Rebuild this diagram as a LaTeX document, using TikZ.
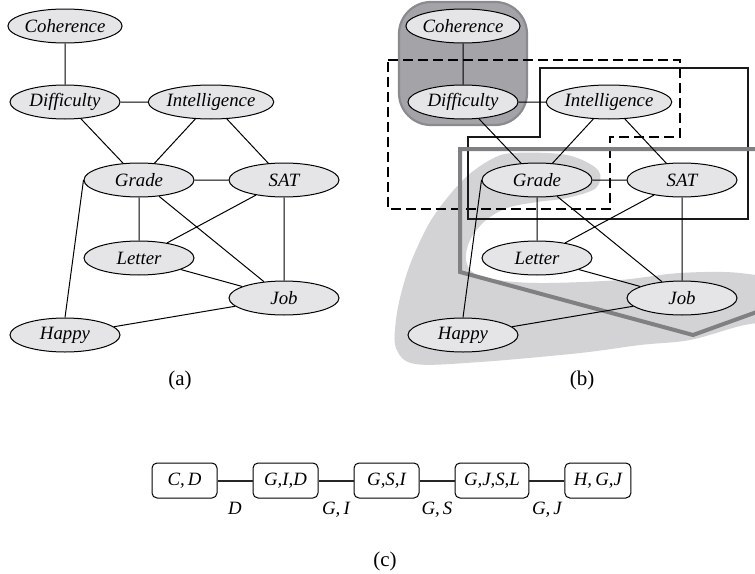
\documentclass[tikz,border=0pt]{standalone}
\usepackage{fontspec}
\setmainfont{Liberation Serif}
\usetikzlibrary{shapes,positioning}

\definecolor{varfill}{RGB}{229,229,231}
\definecolor{blobfill}{RGB}{211,211,213}
\definecolor{capfill}{RGB}{163,163,168}
\definecolor{capdraw}{RGB}{138,138,143}
\definecolor{polygray}{RGB}{128,128,130}

\begin{document}
\begin{tikzpicture}[x=0.5pt, y=-0.5pt,
    % one unit is one pixel of the 755x573 frame, y grows downwards
    var/.style={ellipse, draw, fill=varfill, line width=0.5pt, minimum width=55pt, minimum height=17pt, inner sep=0pt, font=\fontsize{9.4}{11}\selectfont\itshape},
    clique/.style={rectangle, draw, line width=0.5pt, rounded corners=2.5pt, minimum width=32.5pt, minimum height=17.5pt, inner xsep=4.5pt, font=\fontsize{9.4}{11}\selectfont\itshape},
    line/.style={draw, line width=0.5pt},
    sepline/.style={draw, line width=1pt, black!85},
    caption/.style={font=\fontsize{10.5}{12}\selectfont}]

    \useasboundingbox (0,0) rectangle (755,573);
    \clip (0,0) rectangle (755,573);

    % ---------- (a) the network ----------
    \node [var] (coh) at (65,26) {Coherence};
    \node [var] (dif) at (65,102) {Difficulty};
    \node [var] (int) at (211,102) {Intelligence};
    \node [var] (grade) at (139,180) {Grade};
    \node [var] (sat) at (284,180) {SAT};
    \node [var] (letter) at (139,258) {Letter};
    \node [var] (job) at (284,298) {Job};
    \node [var] (happy) at (65,335) {Happy};

    \path [line] (coh) -- (dif) (dif) -- (int) (dif) -- (grade) (int) -- (grade)
        (int) -- (sat) (grade) -- (sat) (grade) -- (letter) (sat) -- (letter)
        (grade) -- (job) (sat) -- (job) (letter) -- (job) (happy) -- (job)
        (grade.west) -- (happy.north);

    \node [caption] (capa) at (180,380) {(a)};

    % ---------- (b) the same network with its clusters ----------
    % light cluster round Grade, Happy and Job
    \fill [blobfill] plot [smooth cycle, tension=0.55] coordinates {
        (513,153) (567,155) (598,170) (596,188) (567,198) (537,202) (507,208)
        (485,221) (470,240) (466,260) (475,274) (505,281) (547,283) (620,280)
        (680,273) (740,273) (790,285) (790,315) (740,326) (690,340) (640,345)
        (580,353) (480,362) (415,364) (396,348) (396,320) (402,290) (413,257)
        (433,217) (463,180) (490,160)};

    % dark cluster round Coherence and Difficulty
    \draw [fill=capfill, draw=capdraw, line width=1.1pt, rounded corners=16pt] (399,2) rectangle (527,125);

    % dashed, black and gray clusters
    \draw [dashed, line width=0.9pt, dash pattern=on 5pt off 2.5pt]
        (388,60) -- (680,60) -- (680,137) -- (610,137) -- (610,209) -- (388,209) -- cycle;
    \draw [line width=1.3pt, black!90]
        (540,68) -- (748,68) -- (748,219) -- (468,219) -- (468,137) -- (540,137) -- cycle;
    \draw [line width=2pt, polygray, line join=miter]
        (790,149) -- (460,149) -- (460,272) -- (693,335) -- (790,300);

    \node [var] (coh2) at (463,26) {Coherence};
    \node [var] (dif2) at (463,102) {Difficulty};
    \node [var] (int2) at (609,102) {Intelligence};
    \node [var] (grade2) at (537,180) {Grade};
    \node [var] (sat2) at (682,180) {SAT};
    \node [var] (letter2) at (537,258) {Letter};
    \node [var] (job2) at (682,298) {Job};
    \node [var] (happy2) at (463,335) {Happy};

    \path [line] (coh2) -- (dif2) (dif2) -- (int2) (dif2) -- (grade2) (int2) -- (grade2)
        (int2) -- (sat2) (grade2) -- (sat2) (grade2) -- (letter2) (sat2) -- (letter2)
        (grade2) -- (job2) (sat2) -- (job2) (letter2) -- (job2) (happy2) -- (job2)
        (grade2.west) -- (happy2.north);

    \node [caption] (capb) at (582,380) {(b)};

    % ---------- (c) the clique tree ----------
    \node [clique] (cd) at (184.5,480.5) {C,\,D};
    \node [clique, right=17.5pt of cd] (gid) {G,I,D};
    \node [clique, right=17.5pt of gid] (gsi) {G,S,I};
    \node [clique, right=17.5pt of gsi] (gjsl) {G,J,S,L};
    \node [clique, right=17.5pt of gjsl] (hgj) {H,\,G,J};

    \path [sepline] (cd) -- node [below=7pt, black, font=\fontsize{9.4}{11}\selectfont\itshape] {D} (gid);
    \path [sepline] (gid) -- node [below=7pt, black, font=\fontsize{9.4}{11}\selectfont\itshape] {G,\,I} (gsi);
    \path [sepline] (gsi) -- node [below=7pt, black, font=\fontsize{9.4}{11}\selectfont\itshape] {G,\,S} (gjsl);
    \path [sepline] (gjsl) -- node [below=7pt, black, font=\fontsize{9.4}{11}\selectfont\itshape] {G,\,J} (hgj);

    \node [caption] (capc) at (385,561) {(c)};

\end{tikzpicture}
\end{document}
